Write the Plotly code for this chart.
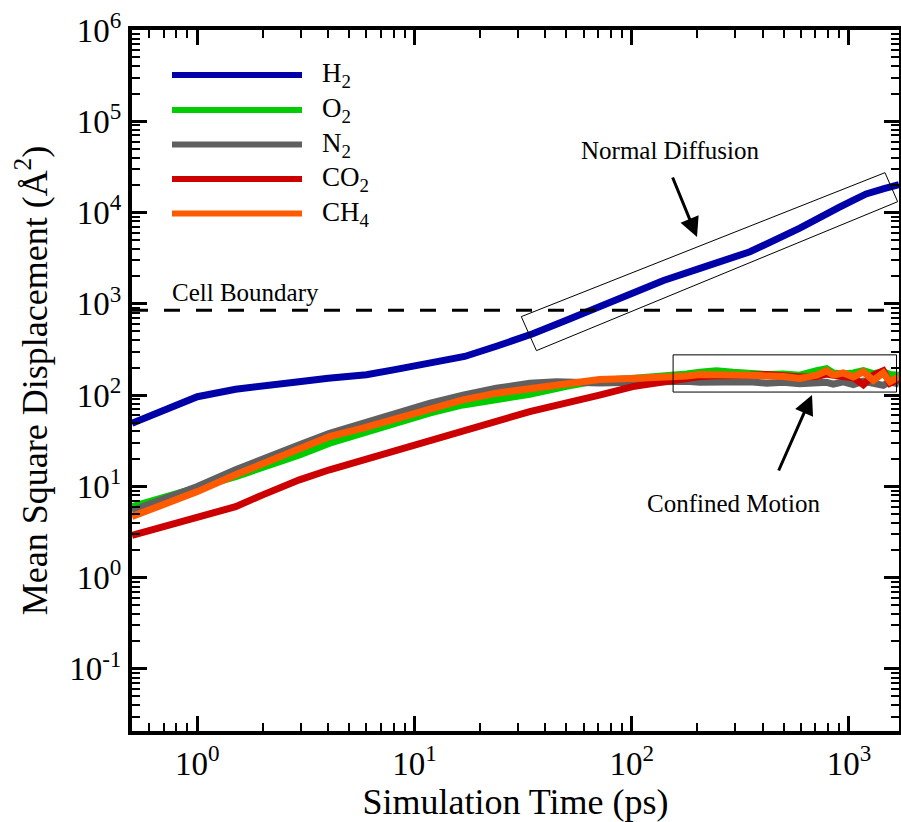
import plotly.graph_objects as go
import math

# ---------------- data ----------------
SPECIES = ["H<sub>2</sub>", "O<sub>2</sub>", "N<sub>2</sub>", "CO<sub>2</sub>", "CH<sub>4</sub>"]
COLORS = ["#0000a8", "#00cc00", "#606060", "#cc0000", "#ff5a00"]

H2_T = [0.5, 1.0, 1.5, 2.0, 3.0, 4.0, 6.0, 8.0, 12, 17, 24, 35, 50, 71, 100, 140, 206,
        350, 594, 760, 900, 1050, 1200, 1450, 1700]
H2_MSD = [49, 96, 116, 124, 141, 153, 167, 189, 225, 265, 345, 470, 660, 930, 1300, 1800,
          2450, 3720, 6760, 9400, 11400, 13700, 16000, 18300, 20200]

O2_T = [0.5, 1.0, 1.5, 2.95, 4.06, 5.78, 8.23, 11.7, 16.7, 23.8, 33.9, 50, 71, 100, 155,
        179, 206, 245, 293, 350, 418, 498, 594, 710, 789, 847, 942, 1048, 1165, 1295,
        1439, 1545, 1700]
O2_MSD = [6.0, 9.8, 12.8, 22.1, 29.7, 38.2, 49.2, 63.4, 78, 88, 102, 125, 145, 152, 160,
          170, 178, 185, 178, 172, 168, 170, 165, 185, 195, 175, 170, 175, 185, 172,
          180, 168, 165]

N2_T = [0.5, 1.0, 1.5, 2.0, 2.95, 4.06, 5.78, 8.23, 11.7, 16.7, 23.8, 33.9, 45, 71, 100,
        155, 179, 206, 245, 293, 350, 418, 498, 594, 710, 789, 847, 942, 1048, 1165,
        1295, 1439, 1545, 1700]
N2_MSD = [5.4, 9.96, 15.2, 19.5, 28.5, 38.2, 49.2, 63.4, 81.4, 100, 119, 135, 140, 136,
          140, 140, 142, 138, 140, 136, 140, 135, 138, 133, 136, 138, 132, 140, 130, 142,
          135, 128, 140, 132]

CO2_T = [0.5, 1.0, 1.5, 2.0, 2.95, 4.06, 5.78, 8.23, 11.7, 16.7, 23.8, 33.9, 71, 101,
         144, 171, 206, 245, 293, 350, 418, 498, 594, 710, 789, 847, 942, 1048, 1165,
         1295, 1439, 1545, 1700]
CO2_MSD = [2.9, 4.6, 6.0, 8.07, 11.8, 15.2, 19.5, 25.1, 32.3, 41.6, 53.5, 66, 100, 124,
           141, 153, 160, 163, 162, 165, 168, 160, 158, 160, 170, 165, 160, 155, 130,
           165, 185, 135, 150]

CH4_T = [0.5, 1.0, 1.5, 2.95, 4.06, 5.78, 8.23, 11.7, 16.7, 23.8, 33.9, 50, 71, 100, 155,
         179, 206, 245, 293, 350, 418, 498, 594, 710, 789, 847, 942, 1048, 1165, 1295,
         1439, 1545, 1700]
CH4_MSD = [4.67, 8.77, 13.4, 26.2, 35.1, 43.4, 55.9, 71.8, 88.6, 105, 119, 135, 148, 152,
           155, 162, 168, 170, 166, 165, 164, 160, 152, 165, 185, 165, 175, 158, 180, 145,
           175, 140, 160]

SERIES_T = [H2_T, O2_T, N2_T, CO2_T, CH4_T]
SERIES_MSD = [H2_MSD, O2_MSD, N2_MSD, CO2_MSD, CH4_MSD]

CELL_BOUNDARY = 850          # Å^2, dashed line
TIME_RANGE = [0.5, 1700]     # ps
MSD_RANGE_LOG = [-1.68, 6]

# annotation boxes (data coordinates)
NORMAL_BOX_T = [31.0, 1465, 1676, 36.4, 31.0]
NORMAL_BOX_MSD = [724, 27350, 13150, 307, 724]
CONFINED_BOX_T = [155, 1656, 1656, 155, 155]
CONFINED_BOX_MSD = [108, 108, 276, 276, 108]

X_TICKS = [1, 10, 100, 1000]
X_TICKTEXT = ["10<sup>0</sup>", "10<sup>1</sup>", "10<sup>2</sup>", "10<sup>3</sup>"]
Y_TICKS = [0.1, 1, 10, 100, 1e3, 1e4, 1e5, 1e6]
Y_TICKTEXT = ["10<sup>-1</sup>", "10<sup>0</sup>", "10<sup>1</sup>", "10<sup>2</sup>",
              "10<sup>3</sup>", "10<sup>4</sup>", "10<sup>5</sup>", "10<sup>6</sup>"]

# ---------------- figure ----------------
W, H = 901, 822
ML, MR, MT, MB = 132, 2, 30, 91
PW, PH = W - ML - MR, H - MT - MB


def px(x):
    return (x - ML) / PW


def py(y):
    return (MT + PH - y) / PH


FONT = "Liberation Serif, Times New Roman, serif"

fig = go.Figure()

for name, color, t, v in zip(SPECIES, COLORS, SERIES_T, SERIES_MSD):
    fig.add_trace(go.Scatter(x=t, y=v, mode="lines", name=name,
                             line=dict(color=color, width=7), showlegend=False))

fig.add_trace(go.Scatter(x=TIME_RANGE, y=[CELL_BOUNDARY, CELL_BOUNDARY], mode="lines",
                         line=dict(color="black", width=3, dash="16px,16px"),
                         showlegend=False, hoverinfo="skip"))
fig.add_trace(go.Scatter(x=NORMAL_BOX_T, y=NORMAL_BOX_MSD, mode="lines",
                         line=dict(color="black", width=1), showlegend=False,
                         hoverinfo="skip"))
fig.add_trace(go.Scatter(x=CONFINED_BOX_T, y=CONFINED_BOX_MSD, mode="lines",
                         line=dict(color="black", width=1), showlegend=False,
                         hoverinfo="skip"))

# manual legend (long line samples)
shapes = []
annotations = []
legend_rows = [75, 110, 144.5, 179, 213.5]
for name, color, yr in zip(SPECIES, COLORS, legend_rows):
    shapes.append(dict(type="line", xref="paper", yref="paper", x0=px(172), x1=px(302),
                       y0=py(yr), y1=py(yr), line=dict(color=color, width=6)))
    annotations.append(dict(xref="paper", yref="paper", x=px(320), y=py(yr), text=name,
                            showarrow=False, xanchor="left", yanchor="middle",
                            font=dict(family=FONT, size=27, color="black")))

annotations += [
    dict(xref="paper", yref="paper", x=px(170), y=py(292), text="Cell Boundary",
         showarrow=False, xanchor="left", yanchor="middle",
         font=dict(family=FONT, size=25, color="black")),
    dict(xref="paper", yref="paper", x=px(670), y=py(150), text="Normal Diffusion",
         showarrow=False, xanchor="center", yanchor="middle",
         font=dict(family=FONT, size=25, color="black")),
    dict(xref="paper", yref="paper", x=px(733), y=py(503), text="Confined Motion",
         showarrow=False, xanchor="center", yanchor="middle",
         font=dict(family=FONT, size=25, color="black")),
    dict(xref="paper", yref="paper", x=px(697), y=py(237), text="", showarrow=True,
         ax=-25, ay=-61, arrowhead=2, arrowsize=1.3, arrowwidth=3, arrowcolor="black"),
    dict(xref="paper", yref="paper", x=px(812), y=py(395), text="", showarrow=True,
         ax=-34, ay=77, arrowhead=2, arrowsize=1.3, arrowwidth=3, arrowcolor="black"),
]

x_minor = [m * 10 ** e for e in range(-1, 4) for m in range(2, 10)]
y_minor = [m * 10 ** e for e in range(-2, 6) for m in range(2, 10)]

axis_common = dict(type="log", showline=True, linecolor="black", linewidth=4,
                   mirror="allticks", ticks="inside", ticklen=15, tickwidth=3,
                   tickcolor="black", showgrid=False, zeroline=False, automargin=False,
                   tickfont=dict(family=FONT, size=33, color="black"))

fig.update_xaxes(**axis_common, range=[math.log10(TIME_RANGE[0]), math.log10(TIME_RANGE[1])],
                 tickmode="array", tickvals=X_TICKS, ticktext=X_TICKTEXT,
                 minor=dict(tickmode="array", tickvals=x_minor, ticks="inside", ticklen=8,
                            tickwidth=1.5, tickcolor="black", showgrid=False),
                 title=dict(text="Simulation Time (ps)", standoff=3,
                            font=dict(family=FONT, size=36, color="black")))
fig.update_yaxes(**axis_common, range=MSD_RANGE_LOG,
                 tickmode="array", tickvals=Y_TICKS, ticktext=Y_TICKTEXT,
                 minor=dict(tickmode="array", tickvals=y_minor, ticks="inside", ticklen=8,
                            tickwidth=1.5, tickcolor="black", showgrid=False),
                 title=dict(text="Mean Square Displacement (Å<sup>2</sup>)", standoff=12,
                            font=dict(family=FONT, size=36, color="black")))

fig.update_layout(width=W, height=H, margin=dict(l=ML, r=MR, t=MT, b=MB),
                  plot_bgcolor="white", paper_bgcolor="white", showlegend=False,
                  shapes=shapes, annotations=annotations)

fig.write_html("out.html", config={"displayModeBar": False},
               post_script="document.body.style.margin='0';document.body.style.overflow='hidden';")
